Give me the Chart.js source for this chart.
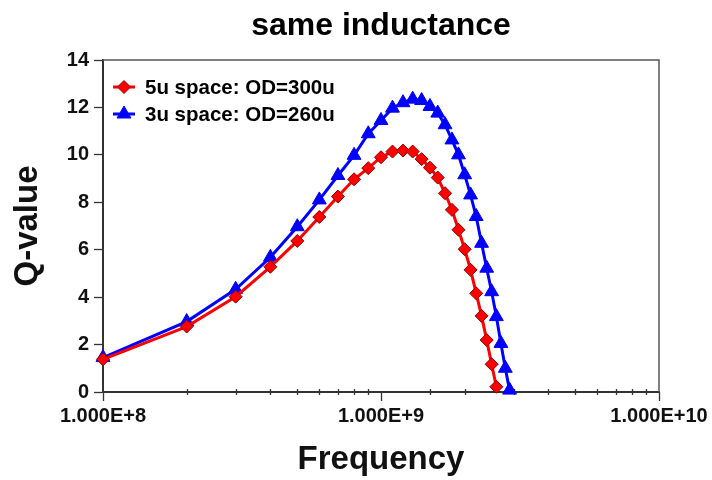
<!DOCTYPE html>
<html>
<head>
<meta charset="utf-8">
<title>same inductance</title>
<script src="https://cdn.jsdelivr.net/npm/chart.js@4.4.1/dist/chart.umd.min.js"></script>
<style>
  html, body { margin: 0; padding: 0; background: #fff; }
  #qChart { display: block; }
</style>
</head>
<body>
<canvas id="qChart" width="712" height="480"></canvas>
<script>
const chartTitle = 'same inductance';
const xTitle = 'Frequency';
const yTitle = 'Q-value';

// 5u spacing coil, sweep points in Hz
const label5u = '5u space: OD=300u';
const freq5u = [1e8, 2e8, 3e8, 4e8, 5e8, 6e8, 7e8, 8e8, 9e8, 1.0e9,
    1.1e9, 1.2e9, 1.3e9, 1.4e9, 1.5e9, 1.6e9, 1.7e9, 1.8e9, 1.9e9, 2.0e9,
    2.1e9, 2.2e9, 2.3e9, 2.4e9, 2.5e9, 2.6e9];
const q5u = [1.38, 2.76, 4.02, 5.28, 6.37, 7.38, 8.24, 8.97, 9.44, 9.9,
    10.14, 10.18, 10.14, 9.82, 9.46, 9.04, 8.38, 7.68, 6.84, 6.02,
    5.15, 4.16, 3.21, 2.19, 1.17, 0.22];

// 3u spacing coil
const label3u = '3u space: OD=260u';
const freq3u = [1e8, 2e8, 3e8, 4e8, 5e8, 6e8, 7e8, 8e8, 9e8, 1.0e9,
    1.1e9, 1.2e9, 1.3e9, 1.4e9, 1.5e9, 1.6e9, 1.7e9, 1.8e9, 1.9e9, 2.0e9,
    2.1e9, 2.2e9, 2.3e9, 2.4e9, 2.5e9, 2.6e9, 2.7e9, 2.8e9, 2.9e9];
const q3u = [1.45, 2.97, 4.33, 5.68, 6.97, 8.1, 9.13, 9.98, 10.89, 11.45,
    11.97, 12.2, 12.35, 12.29, 12.04, 11.76, 11.27, 10.63, 10.0, 9.16,
    8.31, 7.4, 6.27, 5.22, 4.23, 3.18, 2.05, 1.0, 0.08];

const xMin = 1e8, xMax = 1e10;
const yMin = 0, yMax = 14, yStep = 2;

const FONT = "'Liberation Sans', Arial, sans-serif";

const toPoints = (xs, ys) => xs.map((x, i) => ({ x: x, y: ys[i] }));

const isDecade = (v) => {
    const l = Math.log10(v);
    return Math.abs(l - Math.round(l)) < 1e-9;
};

// box edges, log ticks, title and the in-plot legend
const plotDecor = {
    id: 'plotDecor',
    beforeDatasetsDraw(chart) {
        const { ctx, chartArea: a, scales: { x } } = chart;
        ctx.save();
        ctx.strokeStyle = '#555';
        ctx.lineWidth = 1.5;
        ctx.beginPath();
        ctx.moveTo(a.left, a.top);
        ctx.lineTo(a.right, a.top);
        ctx.lineTo(a.right, a.bottom);
        ctx.stroke();

        ctx.strokeStyle = '#333';
        ctx.lineWidth = 1.3;
        x.ticks.forEach(t => {
            const px = Math.round(x.getPixelForValue(t.value)) + 0.5;
            const major = isDecade(t.value);
            ctx.beginPath();
            ctx.moveTo(px, major ? a.bottom : a.bottom - 3);
            ctx.lineTo(px, major ? a.bottom + 9 : a.bottom + 3);
            ctx.stroke();
        });
        ctx.restore();
    },
    afterDatasetsDraw(chart) {
        const { ctx, chartArea: a } = chart;
        ctx.save();
        ctx.fillStyle = '#000';
        ctx.textAlign = 'center';
        ctx.textBaseline = 'middle';
        ctx.font = 'bold 32px ' + FONT;
        ctx.fillText(chartTitle, (a.left + a.right) / 2, 26);

        ctx.font = 'bold 20.5px ' + FONT;
        ctx.textAlign = 'left';
        chart.data.datasets.forEach((ds, i) => {
            const y = a.top + 27 + i * 27;
            const x0 = a.left + 10;
            ctx.strokeStyle = ds.borderColor;
            ctx.lineWidth = ds.borderWidth;
            ctx.beginPath();
            ctx.moveTo(x0, y);
            ctx.lineTo(x0 + 22, y);
            ctx.stroke();

            ctx.fillStyle = ds.pointBackgroundColor;
            ctx.strokeStyle = ds.pointBorderColor;
            ctx.lineWidth = ds.pointBorderWidth;
            Chart.helpers.drawPoint(ctx, {
                pointStyle: ds.pointStyle,
                radius: ds.pointRadius,
                rotation: 0,
                borderWidth: ds.pointBorderWidth
            }, x0 + 11, y);

            ctx.fillStyle = '#000';
            ctx.fillText(ds.label, x0 + 32, y + 1);
        });
        ctx.restore();
    }
};

const ctx = document.getElementById('qChart').getContext('2d');

new Chart(ctx, {
    type: 'scatter',
    data: {
        datasets: [{
            label: label5u,
            data: toPoints(freq5u, q5u),
            showLine: true,
            borderColor: '#ff0000',
            borderWidth: 3,
            pointStyle: 'rectRot',
            pointRadius: 6.5,
            pointBackgroundColor: '#ff0000',
            pointBorderColor: '#8b0000',
            pointBorderWidth: 1,
            clip: false,
            order: 1
        }, {
            label: label3u,
            data: toPoints(freq3u, q3u),
            showLine: true,
            borderColor: '#0000ff',
            borderWidth: 3,
            pointStyle: 'triangle',
            pointRadius: 8,
            pointBackgroundColor: '#0000ff',
            pointBorderColor: '#0000ff',
            pointBorderWidth: 1,
            clip: false,
            order: 2
        }]
    },
    options: {
        responsive: false,
        animation: false,
        devicePixelRatio: 1,
        layout: { padding: { top: 60, right: 53, left: 0, bottom: 0 } },
        plugins: {
            legend: { display: false },
            title: { display: false },
            tooltip: { enabled: false }
        },
        scales: {
            x: {
                type: 'logarithmic',
                min: xMin,
                max: xMax,
                afterFit: (scale) => {
                    scale.height = 88;
                    // end labels may hang into the margins
                    scale.paddingLeft = 0;
                    scale.paddingRight = 0;
                },
                grid: { display: true, drawOnChartArea: false, drawTicks: false },
                border: { display: true, color: '#333', width: 2 },
                ticks: {
                    autoSkip: false,
                    maxRotation: 0,
                    padding: 12,
                    color: '#111',
                    font: { family: FONT, size: 20, weight: 'bold' },
                    callback: (v) => isDecade(v) ? Number(v).toExponential(3).toUpperCase() : ''
                },
                title: {
                    display: true,
                    text: xTitle,
                    color: '#111',
                    padding: { top: 0, bottom: 0 },
                    font: { family: FONT, size: 33, weight: 'bold' }
                }
            },
            y: {
                min: yMin,
                max: yMax,
                afterFit: (scale) => { scale.width = 103; },
                grid: { drawOnChartArea: false, drawTicks: true, tickLength: 9, color: '#333', tickWidth: 1.3 },
                border: { display: true, color: '#333', width: 2 },
                ticks: {
                    stepSize: yStep,
                    padding: 5,
                    color: '#111',
                    font: { family: FONT, size: 20, weight: 'bold' }
                },
                title: {
                    display: true,
                    text: yTitle,
                    color: '#111',
                    padding: { top: 8, bottom: 0 },
                    font: { family: FONT, size: 33, weight: 'bold' }
                }
            }
        }
    },
    plugins: [plotDecor]
});
</script>
</body>
</html>
